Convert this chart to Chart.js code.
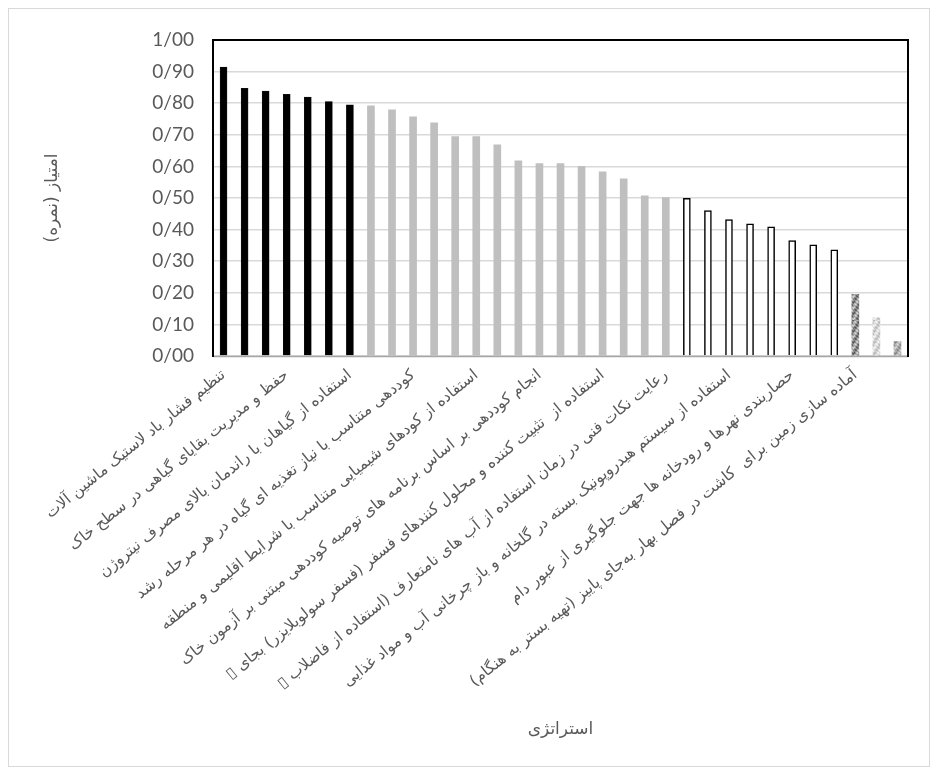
<!DOCTYPE html>
<html lang="fa">
<head>
<meta charset="utf-8">
<script src="https://cdn.jsdelivr.net/npm/chart.js@4/dist/chart.umd.min.js"></script>
<style>
html,body{margin:0;padding:0;background:#fff;}
#wrap{width:938px;height:775px;position:relative;}
canvas{direction:rtl;}
</style>
</head>
<body>
<div id="wrap"><canvas id="c" width="938" height="775"></canvas></div>
<script>
// ---- data ----
const categories = [
  'تنظیم فشار باد لاستیک ماشین آلات', '', '',
  'حفظ و مدیریت بقایای گیاهی در سطح خاک', '', '',
  'استفاده از گیاهان با راندمان بالای مصرف نیتروژن', '', '',
  'کوددهی متناسب با نیاز تغذیه ای گیاه در هر مرحله رشد', '', '',
  'استفاده از کودهای شیمیایی متناسب با شرایط اقلیمی و منطقه', '', '',
  'انجام کوددهی بر اساس برنامه های توصیه کوددهی مبتنی بر آزمون خاک', '', '',
  'استفاده از  تثبیت کننده و محلول کنندهای فسفر (فسفر سولوبلایزر) بجای \u25AF', '', '',
  'رعایت نکات فنی در زمان استفاده از آب های نامتعارف (استفاده از فاضلاب \u25AF', '', '',
  'استفاده از سیستم هیدروپونیک بسته در گلخانه و باز چرخانی آب و مواد غذایی', '', '',
  'حصاربندی نهرها و رودخانه ها جهت جلوگیری از عبور دام', '', '',
  'آماده سازی زمین برای  کاشت در فصل بهار به\u200Cجای پاییز (تهیه بستر به هنگام)', '', ''
];
const scores = [
  0.914, 0.847, 0.838, 0.828, 0.819, 0.805, 0.795,
  0.792, 0.779, 0.757, 0.738, 0.694, 0.694, 0.668, 0.618, 0.609, 0.609, 0.600, 0.583, 0.561, 0.507, 0.501,
  0.499, 0.460, 0.432, 0.418, 0.409, 0.365, 0.352, 0.336,
  0.195, 0.121, 0.046
];
// priority tier of each strategy (1 = highest)
const tiers = [
  1,1,1,1,1,1,1,
  2,2,2,2,2,2,2,2,2,2,2,2,2,2,2,
  3,3,3,3,3,3,3,3,
  4,4,4
];
const yTickValues = [0, 0.1, 0.2, 0.3, 0.4, 0.5, 0.6, 0.7, 0.8, 0.9, 1.0];
const yAxisTitle = 'امتیاز (نمره)';
const xAxisTitle = 'استراتژی';

// ---- styling ----
function makeTexture(variant) {
  const c = document.createElement('canvas');
  c.width = 7; c.height = 40;
  const g = c.getContext('2d');
  const base = variant === 0 ? 150 : (variant === 1 ? 215 : 175);
  const amp = variant === 0 ? 70 : (variant === 1 ? 35 : 45);
  for (let y = 0; y < 40; y++) {
    for (let x = 0; x < 7; x++) {
      const v = Math.sin(y * 0.55 + x * 0.9) * 0.6 + Math.sin(y * 1.7 - x * 1.3) * 0.4;
      const s = Math.max(40, Math.min(245, Math.round(base + amp * v)));
      g.fillStyle = 'rgb(' + s + ',' + s + ',' + s + ')';
      g.fillRect(x, y, 1, 1);
    }
  }
  return g.createPattern(c, 'repeat');
}

const ctx = document.getElementById('c').getContext('2d');
ctx.direction = 'rtl';

let t4 = 0;
const bgColors = tiers.map(t => {
  if (t === 1) return '#000000';
  if (t === 2) return '#bfbfbf';
  if (t === 3) return '#ffffff';
  return makeTexture(t4++);
});
const bdColors = tiers.map(t => (t === 3 ? '#000000' : (t === 1 ? '#1a1a1a' : 'rgba(0,0,0,0)')));
const bdWidths = tiers.map(t => (t === 3 ? 1.5 : (t === 1 ? 0.5 : 0)));

const textGray = '#595959';

const framePlugin = {
  id: 'frame',
  beforeDraw(chart) {
    chart.ctx.direction = 'rtl';
  },
  afterDraw(chart) {
    const c = chart.ctx;
    const a = chart.chartArea;
    c.save();
    c.strokeStyle = '#a6a6a6';
    c.lineWidth = 1.5;
    c.beginPath();
    c.moveTo(a.left, a.bottom + 0.5);
    c.lineTo(a.right, a.bottom + 0.5);
    c.stroke();
    c.strokeStyle = '#000000';
    c.lineWidth = 2;
    c.beginPath();
    c.moveTo(a.left, a.bottom + 1);
    c.lineTo(a.left, a.top);
    c.lineTo(a.right, a.top);
    c.lineTo(a.right, a.bottom + 1);
    c.stroke();
    c.strokeStyle = '#d9d9d9';
    c.lineWidth = 1;
    c.strokeRect(8.5, 8.5, 921, 758);
    c.restore();
  }
};

new Chart(ctx, {
  type: 'bar',
  data: {
    labels: categories,
    datasets: [{
      data: scores,
      backgroundColor: bgColors,
      borderColor: bdColors,
      borderWidth: bdWidths,
      barThickness: 7,
      categoryPercentage: 1,
      barPercentage: 0.34
    }]
  },
  options: {
    responsive: false,
    animation: false,
    devicePixelRatio: 1,
    layout: { padding: { left: 10, right: 30, top: 40, bottom: 8 } },
    plugins: { legend: { display: false }, tooltip: { enabled: false } },
    scales: {
      x: {
        grid: { display: false, drawTicks: false },
        border: { display: false },
        ticks: {
          autoSkip: false,
          minRotation: 39,
          maxRotation: 39,
          padding: 10,
          color: textGray,
          font: { family: 'DejaVu Sans', size: 15.5 },
          callback: (v, i) => categories[i]
        },
        title: {
          display: true,
          text: xAxisTitle,
          color: textGray,
          font: { family: 'DejaVu Sans', size: 17 },
          padding: { top: 0, bottom: 27 }
        },
        afterFit(s) { s.height = 411; s.paddingLeft = 0; s.paddingRight = 0; }
      },
      y: {
        min: 0,
        max: 1,
        afterBuildTicks(s) { s.ticks = yTickValues.map(v => ({ value: v })); },
        grid: { color: '#d9d9d9', lineWidth: 1.5, drawTicks: false },
        border: { display: false },
        ticks: {
          padding: 19,
          color: textGray,
          font: { family: 'Lato', size: 19 },
          callback: v => Number(v).toFixed(2).replace('.', '/')
        },
        title: {
          display: true,
          text: yAxisTitle,
          color: textGray,
          font: { family: 'DejaVu Sans', size: 17 },
          padding: { top: 32, bottom: 0 }
        },
        afterFit(s) { s.width = 203; }
      }
    }
  },
  plugins: [framePlugin]
});
</script>
</body>
</html>
